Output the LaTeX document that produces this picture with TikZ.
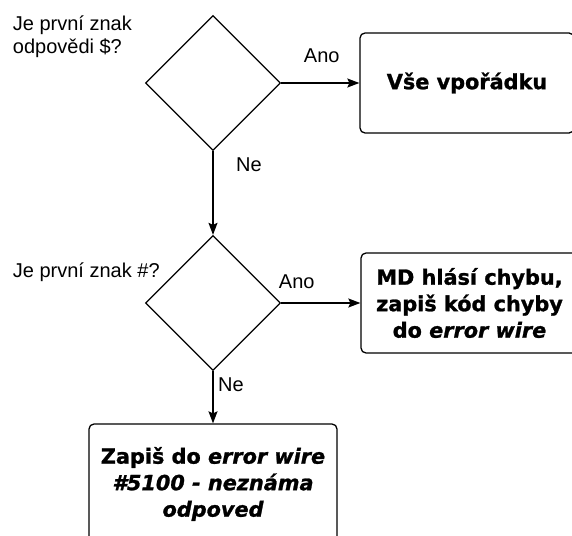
\documentclass[tikz,border=0pt]{standalone}
\usepackage{fontspec}
\setmainfont{Liberation Sans}
% heavier bold, closer to a wide display bold face
\newfontfamily\boxfont[BoldFeatures={FakeBold=1.2},BoldItalicFeatures={FakeBold=1.2}]{DejaVu Sans}
\usetikzlibrary{shapes.geometric,arrows.meta}

\tikzset{
  decision/.style={draw, line width=1.3pt, shape=diamond, inner sep=0pt,
    minimum width=135pt, minimum height=135pt},
  action/.style={draw, line width=1.3pt, rounded corners=5pt, align=center,
    inner sep=0pt, font=\boxfont\bfseries\fontsize{20.8}{26.5}\selectfont},
  flow/.style={draw, line width=1.3pt,
    -{Stealth[length=12pt, width=9pt, inset=2pt]}},
  lbl/.style={inner sep=0pt, font=\fontsize{20}{22}\selectfont},
}

\begin{document}
\begin{tikzpicture}[x=1pt, y=-1pt]
  \useasboundingbox (0,0) rectangle (572,535);
  \clip (0,0) rectangle (572,535);

  % decisions
  \node[decision] (q1) at (213,83) {};
  \node[decision] (q2) at (213,303) {};

  % outcomes
  \node[action, minimum width=214pt, minimum height=100pt] (ok) at (467,83) {Vše vpořádku};
  \node[action, minimum width=217pt, minimum height=100pt] (err) at (469.5,303)
    {MD hlásí chybu,\\zapiš kód chyby\\do \itshape error wire};
  \node[action, minimum width=248pt, minimum height=120pt] (unk) at (213,484)
    {Zapiš do \textit{error wire}\\\itshape \#5100 - neznáma\\\itshape odpoved};

  % questions (base anchor of a multi-line node sits on its last line)
  \node[lbl, anchor=base west, align=left] (t1) at (12.7,53)
    {Je první znak\\odpovědi \$?};
  \node[lbl, anchor=base west] (t2) at (12.7,277) {Je první znak \#?};

  % connectors
  \draw[flow] (q1.east) -- (ok.west);
  \draw[flow] (q1.south) -- (q2.north);
  \draw[flow] (q2.east) -- (err.west);
  \draw[flow] (q2.south) -- (unk.north);

  % branch labels
  \node[lbl, anchor=base] (a1) at (321.7,62.7) {Ano};
  \node[lbl, anchor=base] (n1) at (249,171.7) {Ne};
  \node[lbl, anchor=base] (a2) at (296.7,288.3) {Ano};
  \node[lbl, anchor=base] (n2) at (231,391.7) {Ne};
\end{tikzpicture}
\end{document}
